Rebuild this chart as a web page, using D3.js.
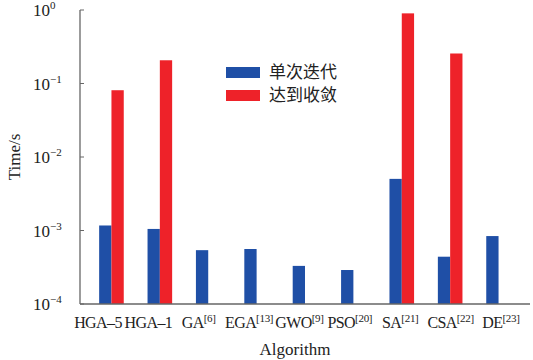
<!DOCTYPE html>
<html><head><meta charset="utf-8">
<script src="https://cdn.jsdelivr.net/npm/d3@7"></script>
<style>body{margin:0;background:#fff}svg{display:block}</style>
</head><body>
<script>
const categories = ["HGA–5","HGA–1","GA","EGA","GWO","PSO","SA","CSA","DE"];
const refs = ["","","[6]","[13]","[9]","[20]","[21]","[22]","[23]"];
const perIter = [0.00117,0.00105,0.00054,0.00056,0.00033,0.00029,0.00504,0.00044,0.00084];
const toConverge = [0.081,0.207,null,null,null,null,0.90,0.256,null];
const seriesNames = ["单次迭代","达到收敛"];
const colors = ["#1f4fa6","#ee2229"];
const yTicks = [1e-4,1e-3,1e-2,1e-1,1];
const yTickExp = ["−4","−3","−2","−1","0"];

const W=533,H=360;
const svg=d3.select("body").append("svg").attr("width",W).attr("height",H);
const x=d3.scaleBand().domain(categories).range([80,530]).paddingInner(0).paddingOuter(0.15);
const xl=d3.scalePoint().domain(categories).range([98,501]);
const y=d3.scaleLog().domain([1e-4,1]).range([304,10]);
const bw=12.3;
const axisColor="#666";

// bars
svg.append("g").selectAll("rect").data(categories).join("rect")
  .attr("x",d=>x(d)+x.bandwidth()/2-bw).attr("width",bw)
  .attr("y",(d,i)=>y(perIter[i])).attr("height",(d,i)=>y(1e-4)-y(perIter[i]))
  .attr("fill",colors[0]);
svg.append("g").selectAll("rect").data(categories.filter((d,i)=>toConverge[i]!=null)).join("rect")
  .attr("x",d=>x(d)+x.bandwidth()/2).attr("width",bw)
  .attr("y",d=>y(toConverge[categories.indexOf(d)]))
  .attr("height",d=>y(1e-4)-y(toConverge[categories.indexOf(d)]))
  .attr("fill",colors[1]);

// axes lines
svg.append("line").attr("x1",80).attr("x2",80).attr("y1",y(1)).attr("y2",y(1e-4)).attr("stroke",axisColor).attr("stroke-width",1.3);
svg.append("line").attr("x1",80).attr("x2",530).attr("y1",y(1e-4)).attr("y2",y(1e-4)).attr("stroke",axisColor).attr("stroke-width",1.3);
svg.append("g").selectAll("line").data(yTicks).join("line")
  .attr("x1",80).attr("x2",84).attr("y1",d=>y(d)).attr("y2",d=>y(d)).attr("stroke",axisColor).attr("stroke-width",1);

// y tick labels
const tl=svg.append("g").selectAll("text").data(yTicks).join("text")
  .attr("x",33).attr("y",d=>y(d)+6)
  .attr("font-family","Liberation Serif, serif").attr("font-size",17).attr("fill","#222");
tl.append("tspan").text("10");
tl.append("tspan").attr("dy",-7).attr("font-size",11).text((d,i)=>yTickExp[i]);

// x labels
const xt=svg.append("g").selectAll("text").data(categories).join("text")
  .attr("x",d=>xl(d)).attr("y",328).attr("text-anchor","middle")
  .attr("font-family","Liberation Serif, serif").attr("font-size",16).attr("letter-spacing",-0.6).attr("fill","#222");
xt.append("tspan").text(d=>d);
xt.append("tspan").attr("dy",-6).attr("font-size",11).attr("letter-spacing",-0.3).text((d,i)=>refs[i]);

// axis titles
svg.append("text").attr("x",295).attr("y",355).attr("text-anchor","middle")
  .attr("font-family","Liberation Serif, serif").attr("font-size",17).attr("fill","#222").text("Algorithm");
svg.append("text").attr("transform","translate(20,157) rotate(-90)").attr("text-anchor","middle")
  .attr("font-family","Liberation Serif, serif").attr("font-size",17).attr("fill","#222").text("Time/s");

// legend
const lg=svg.append("g").selectAll("g").data(seriesNames).join("g")
  .attr("transform",(d,i)=>`translate(226,${67+i*23})`);
lg.append("rect").attr("width",34).attr("height",11).attr("fill",(d,i)=>colors[i]);
lg.append("text").attr("x",43).attr("y",11).attr("font-family","Noto Sans CJK SC, sans-serif")
  .attr("font-size",17).attr("fill","#222").text(d=>d);
</script>
</body></html>
